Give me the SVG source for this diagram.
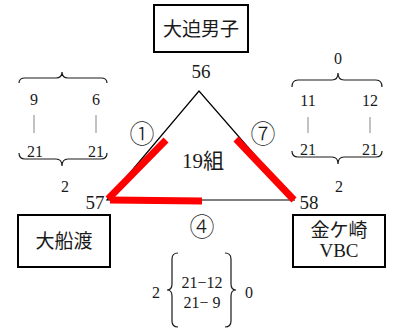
<svg xmlns="http://www.w3.org/2000/svg" width="396" height="331" viewBox="0 0 396 331">
<style>
.t{font-family:"Liberation Serif","Noto Sans CJK JP",serif;fill:#1a1a1a;text-anchor:middle}
.c{font-family:"Noto Sans CJK JP",serif;fill:#1a1a1a;text-anchor:middle;font-size:25px;font-weight:300}
.box{fill:#fff;stroke:#000;stroke-width:2}
.br{fill:none;stroke:#1a1a1a;stroke-width:1.2}
.gl{stroke:#999;stroke-width:1.2}
.red{stroke:#ff0000;stroke-width:7;stroke-linecap:butt;fill:none}
</style>
<rect width="396" height="331" fill="#fff"/>
<g id="connectors">
<path d="M107,200 L199,91 L294,200 Z" fill="none" stroke="#000" stroke-width="1.2"/>
<line class="red" x1="108" y1="199" x2="166" y2="140"/>
<line class="red" x1="236" y1="139" x2="294" y2="200"/>
<line class="red" x1="110" y1="200" x2="202" y2="201"/>
</g>
<g id="node-top">
<rect class="box" x="154" y="5" width="94" height="47"/>
<text class="t" x="201" y="36" font-size="19">大迫男子</text>
<text class="t" x="201" y="78" font-size="19">56</text>
</g>
<g id="node-left">
<rect class="box" x="18" y="215" width="92" height="52"/>
<text class="t" x="64" y="248" font-size="19">大船渡</text>
<text class="t" x="95" y="209" font-size="19">57</text>
</g>
<g id="node-right">
<rect class="box" x="293" y="215" width="92" height="52"/>
<text class="t" x="339" y="237" font-size="19">金ケ崎</text>
<text class="t" x="339" y="257" font-size="19">VBC</text>
<text class="t" x="309" y="209" font-size="19">58</text>
</g>
<g id="center">
<text class="t" x="203" y="168" font-size="21">19組</text>
<text class="c" x="142" y="143">①</text>
<text class="c" x="263" y="143">⑦</text>
<text class="c" x="202" y="236">④</text>
</g>
<g id="score-left">
<path class="br" d="M19,83 Q19,78 25,78 L56,78 Q62,78 62,72 Q62,78 68,78 L101,78 Q107,78 107,83"/>
<text class="t" x="34" y="105" font-size="16">9</text>
<text class="t" x="96" y="105" font-size="16">6</text>
<line class="gl" x1="34" y1="115" x2="34" y2="133"/>
<line class="gl" x1="96" y1="115" x2="96" y2="133"/>
<text class="t" x="35" y="157" font-size="16">21</text>
<text class="t" x="96" y="157" font-size="16">21</text>
<path class="br" d="M19,153 Q19,159 25,159 L56,159 Q62,159 62,166 Q62,159 68,159 L101,159 Q107,159 107,153"/>
<text class="t" x="65" y="192" font-size="16">2</text>
</g>
<g id="score-right">
<text class="t" x="338" y="64" font-size="16">0</text>
<path class="br" d="M292,87 Q292,80 298,80 L332,80 Q338,80 338,73 Q338,80 344,80 L376,80 Q382,80 382,87"/>
<text class="t" x="308" y="106" font-size="16">11</text>
<text class="t" x="370" y="106" font-size="16">12</text>
<line class="gl" x1="308" y1="117" x2="308" y2="133"/>
<line class="gl" x1="370" y1="117" x2="370" y2="133"/>
<text class="t" x="308" y="155" font-size="16">21</text>
<text class="t" x="370" y="155" font-size="16">21</text>
<path class="br" d="M292,151 Q292,157 298,157 L332,157 Q338,157 338,164 Q338,157 344,157 L376,157 Q382,157 382,151"/>
<text class="t" x="339" y="192" font-size="16">2</text>
</g>
<g id="score-bottom">
<text class="t" x="156" y="298" font-size="16">2</text>
<path class="br" d="M178,253 Q172,253 172,259 L172,284 Q172,290 167,290 Q172,290 172,296 L172,321 Q172,327 178,327"/>
<text class="t" x="202" y="288" font-size="16">21−12</text>
<text class="t" x="202" y="308" font-size="16">21− 9</text>
<path class="br" d="M225,253 Q231,253 231,259 L231,284 Q231,290 236,290 Q231,290 231,296 L231,321 Q231,327 225,327"/>
<text class="t" x="249" y="298" font-size="16">0</text>
</g>
</svg>
